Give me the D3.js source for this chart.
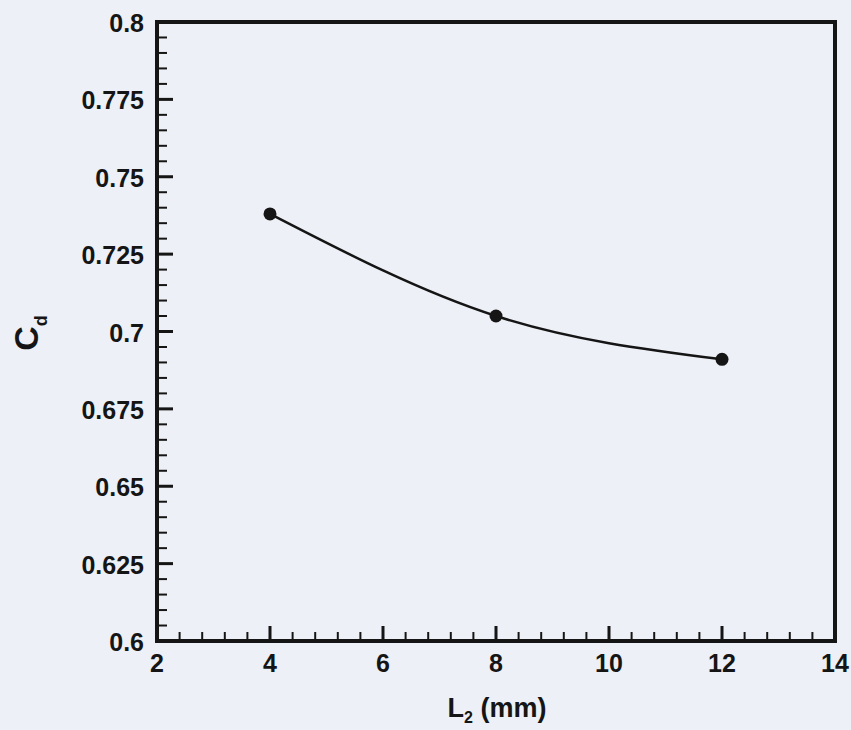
<!DOCTYPE html>
<meta charset="utf-8">
<head>
<title>Cd vs L2</title>
<script src="https://cdn.jsdelivr.net/npm/d3@7"></script>
<style>
  body { margin: 0; background: #edf0f6; }
  text { font-family: Arial, "Liberation Sans", sans-serif; font-weight: bold; fill: #151515; }
</style>
</head>
<body>
<div id="chart"></div>
<script>

const width = 851;
const height = 730;

// data
const lengths = [4, 8, 12];          // L2 (mm)
const cdValues = [0.738, 0.705, 0.691];
const xTicks = [2, 4, 6, 8, 10, 12, 14];
const yTicks = [0.6, 0.625, 0.65, 0.675, 0.7, 0.725, 0.75, 0.775, 0.8];

const margin = {top: 22, right: 16, bottom: 89, left: 157};

const svg = d3.select('#chart')
  .append("svg")
  .attr("width", width)
  .attr("height", height);

const x = d3.scaleLinear().domain([2, 14]).range([margin.left, width - margin.right]);
const y = d3.scaleLinear().domain([0.6, 0.8]).range([height - margin.bottom, margin.top]);

// minor ticks
const xMinor = d3.range(2, 14.001, 0.4).filter(v => Math.abs(v / 2 - Math.round(v / 2)) > 1e-6);
const yMinor = d3.range(0.6, 0.8001, 0.005).filter(v => Math.abs(v / 0.025 - Math.round(v / 0.025)) > 1e-6);

const g = svg.append("g").attr("stroke", "#151515");

g.selectAll(".xmaj").data(xTicks).join("line")
  .attr("x1", d => x(d)).attr("x2", d => x(d))
  .attr("y1", y(0.6)).attr("y2", y(0.6) - 15)
  .attr("stroke-width", 3);
g.selectAll(".xmin").data(xMinor).join("line")
  .attr("x1", d => x(d)).attr("x2", d => x(d))
  .attr("y1", y(0.6)).attr("y2", y(0.6) - 9)
  .attr("stroke-width", 2);
g.selectAll(".ymaj").data(yTicks).join("line")
  .attr("x1", x(2)).attr("x2", x(2) + 16)
  .attr("y1", d => y(d)).attr("y2", d => y(d))
  .attr("stroke-width", 3);
g.selectAll(".ymin").data(yMinor).join("line")
  .attr("x1", x(2)).attr("x2", x(2) + 10)
  .attr("y1", d => y(d)).attr("y2", d => y(d))
  .attr("stroke-width", 2);

// frame
svg.append("rect")
  .attr("x", x(2)).attr("y", y(0.8))
  .attr("width", x(14) - x(2)).attr("height", y(0.6) - y(0.8))
  .attr("fill", "none").attr("stroke", "#151515").attr("stroke-width", 4);

// tick labels
svg.append("g").selectAll("text").data(xTicks).join("text")
  .attr("x", d => x(d)).attr("y", y(0.6) + 31)
  .attr("text-anchor", "middle")
  .style("font-size", "25px")
  .text(d => d);

svg.append("g").selectAll("text").data(yTicks).join("text")
  .attr("x", x(2) - 13).attr("y", d => y(d) + 10)
  .attr("text-anchor", "end")
  .style("font-size", "25px")
  .text(d => d);

// axis titles
const xt = svg.append("text")
  .attr("x", 497).attr("y", 717)
  .attr("text-anchor", "middle")
  .style("font-size", "27px");
xt.append("tspan").text("L");
xt.append("tspan").attr("dy", 6).style("font-size", "16px").text("2");
xt.append("tspan").attr("dy", -6).text(" (mm)");

const yt = svg.append("text")
  .attr("transform", "translate(38,333) rotate(-90)")
  .attr("text-anchor", "middle")
  .style("font-size", "34px");
yt.append("tspan").text("C");
yt.append("tspan").attr("dy", 9).style("font-size", "18px").text("d");

// curve and points
const pts = lengths.map((l, i) => [l, cdValues[i]]);
svg.append("path")
  .datum(pts)
  .attr("fill", "none")
  .attr("stroke", "#151515")
  .attr("stroke-width", 2.5)
  .attr("d", d3.line().x(d => x(d[0])).y(d => y(d[1])).curve(d3.curveNatural));

svg.append("g").selectAll("circle").data(pts).join("circle")
  .attr("cx", d => x(d[0])).attr("cy", d => y(d[1]))
  .attr("r", 6.5)
  .attr("fill", "#151515");

</script>
</body>
